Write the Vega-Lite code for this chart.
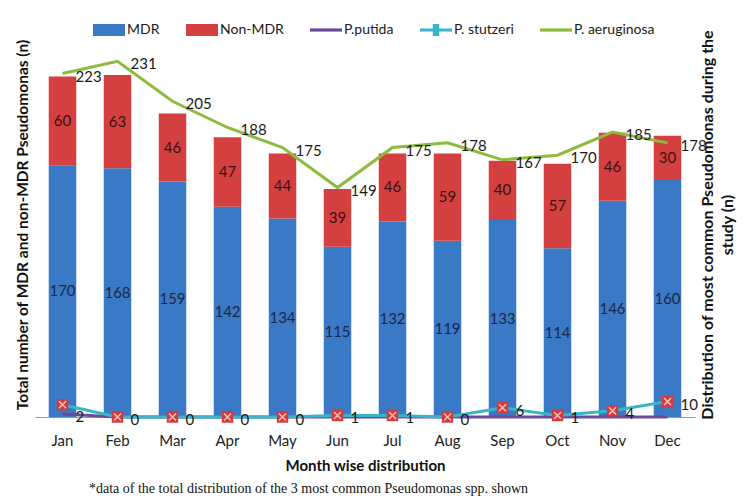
{
  "$schema": "https://vega.github.io/schema/vega-lite/v6.json",
  "width": 660,
  "height": 385,
  "autosize": "none",
  "padding": {"left": 35, "top": 32, "right": 49, "bottom": 87},
  "background": "white",
  "config": {"view": {"stroke": null}, "font": "Lato", "axis": {"grid": false}},
  "title": {
    "text": "*data of the total distribution of the 3 most common Pseudomonas spp. shown",
    "orient": "bottom", "anchor": "start", "dx": 74, "offset": 9,
    "font": "Liberation Serif", "fontSize": 14, "fontWeight": "normal", "color": "#111"
  },
  "data": {"values": [
    {"month": "Jan", "MDR": 170, "Non-MDR": 60, "putida": 2, "stutzeri": 8, "aeruginosa": 223},
    {"month": "Feb", "MDR": 168, "Non-MDR": 63, "putida": 0, "stutzeri": 0, "aeruginosa": 231},
    {"month": "Mar", "MDR": 159, "Non-MDR": 46, "putida": 0, "stutzeri": 0, "aeruginosa": 205},
    {"month": "Apr", "MDR": 142, "Non-MDR": 47, "putida": 0, "stutzeri": 0, "aeruginosa": 188},
    {"month": "May", "MDR": 134, "Non-MDR": 44, "putida": 0, "stutzeri": 0, "aeruginosa": 175},
    {"month": "Jun", "MDR": 115, "Non-MDR": 39, "putida": 0, "stutzeri": 1, "aeruginosa": 149},
    {"month": "Jul", "MDR": 132, "Non-MDR": 46, "putida": 0, "stutzeri": 1, "aeruginosa": 175},
    {"month": "Aug", "MDR": 119, "Non-MDR": 59, "putida": 0, "stutzeri": 0, "aeruginosa": 178},
    {"month": "Sep", "MDR": 133, "Non-MDR": 40, "putida": 0, "stutzeri": 6, "aeruginosa": 167},
    {"month": "Oct", "MDR": 114, "Non-MDR": 57, "putida": 0, "stutzeri": 1, "aeruginosa": 170},
    {"month": "Nov", "MDR": 146, "Non-MDR": 46, "putida": 0, "stutzeri": 4, "aeruginosa": 185},
    {"month": "Dec", "MDR": 160, "Non-MDR": 30, "putida": 0, "stutzeri": 10, "aeruginosa": 178}
  ]},
  "encoding": {
    "x": {
      "field": "month", "type": "nominal",
      "sort": ["Jan","Feb","Mar","Apr","May","Jun","Jul","Aug","Sep","Oct","Nov","Dec"],
      "scale": {"paddingInner": 0.5, "paddingOuter": 0.25},
      "axis": {
        "labelAngle": 0, "ticks": false, "domainColor": "#999", "domainWidth": 1,
        "labelFontSize": 15, "labelColor": "#222", "labelPadding": 16,
        "title": "Month wise distribution", "titleFontSize": 15, "titleFontWeight": "bold",
        "titleColor": "#111", "titlePadding": 10
      }
    }
  },
  "layer": [
    {
      "transform": [
        {"fold": ["MDR", "Non-MDR"], "as": ["series", "value"]},
        {"stack": "value", "groupby": ["month"], "sort": [{"field": "series", "order": "ascending"}], "as": ["v0", "v1"]},
        {"calculate": "(datum.v0 + datum.v1) / 2", "as": "mid"}
      ],
      "layer": [
        {
          "mark": {"type": "bar"},
          "encoding": {
            "y": {
              "field": "v0", "type": "quantitative", "scale": {"domain": [0, 250]},
              "axis": {"labels": false, "ticks": false, "domain": false,
                "title": "Total number of MDR and non-MDR Pseudomonas (n)",
                "titleFontSize": 15.5, "titleFontWeight": "bold", "titleColor": "#111", "titlePadding": 5}
            },
            "y2": {"field": "v1"},
            "color": {
              "field": "series", "type": "nominal",
              "scale": {"domain": ["MDR", "Non-MDR", "P.putida", "P. stutzeri", "P. aeruginosa"],
                        "range": ["#3a79c6", "#d4403f", "#6a4c9c", "#3ab5c8", "#8dbb3e"]},
              "legend": {
                "orient": "none", "legendX": 58, "legendY": -18, "direction": "horizontal",
                "title": null, "labelFontSize": 14, "labelColor": "#1a1a1a", "labelFont": "Lato",
                "symbolSize": 1024, "labelOffset": 2, "columnPadding": 26, "symbolStrokeWidth": 0,
                "encode": {"symbols": {"update": {"shape": {"signal": "(datum.value == 'MDR' || datum.value == 'Non-MDR') ? 'M-1,-0.375H1V0.375H-1Z' : (datum.value == 'P. stutzeri' ? 'M-1,-0.1H1V0.1H-1Z M-0.2,-0.375H0.2V0.375H-0.2Z' : 'M-1,-0.1H1V0.1H-1Z')"}}}}
              }
            }
          }
        },
        {
          "mark": {"type": "text", "fontSize": 15, "font": "Lato"},
          "encoding": {
            "y": {"field": "mid", "type": "quantitative"},
            "text": {"field": "value", "type": "quantitative"},
            "color": {"condition": {"test": "datum.series == 'MDR'", "value": "#1b2748"}, "value": "#3a1012"}
          }
        }
      ]
    },
    {
      "transform": [
        {"fold": ["putida", "stutzeri", "aeruginosa"], "as": ["species", "count"]}
      ],
      "encoding": {
        "y": {
          "field": "count", "type": "quantitative", "scale": {"domain": [0, 250]},
          "axis": {"orient": "right", "labels": false, "ticks": false, "domain": false,
            "title": ["Distribution of most common Pseudomonas during the", "study (n)"],
            "titleAngle": -90, "titleFontSize": 16, "titleFontWeight": "bold", "titleColor": "#111",
            "titlePadding": 0, "titleLineHeight": 20}
        }
      },
      "layer": [
        {
          "mark": {"type": "line", "strokeWidth": 3},
          "encoding": {
            "stroke": {"field": "species", "type": "nominal",
              "scale": {"domain": ["putida", "stutzeri", "aeruginosa"], "range": ["#6a4c9c", "#3ab5c8", "#8dbb3e"]},
              "legend": null}
          }
        },
        {
          "transform": [{"filter": "datum.species == 'stutzeri'"}],
          "mark": {"type": "point", "shape": "square", "filled": true, "size": 130, "color": "#d43a3a", "opacity": 1}
        },
        {
          "transform": [{"filter": "datum.species == 'stutzeri'"}],
          "mark": {"type": "point", "shape": "M-1,-1L1,1M1,-1L-1,1", "filled": false, "size": 50, "stroke": "#f3c0c0", "strokeWidth": 1.5, "opacity": 1}
        },
        {
          "transform": [{"filter": "datum.species == 'aeruginosa' || (datum.species == 'stutzeri' && datum.month != 'Jan') || (datum.species == 'putida' && datum.month == 'Jan')"}],
          "mark": {"type": "text", "align": "left", "baseline": "middle", "dx": 13, "dy": 3, "fontSize": 15, "font": "Lato", "color": "#1a1a1a"},
          "encoding": {"text": {"field": "count", "type": "quantitative"}}
        }
      ]
    }
  ],
  "resolve": {"scale": {"y": "independent"}}
}
